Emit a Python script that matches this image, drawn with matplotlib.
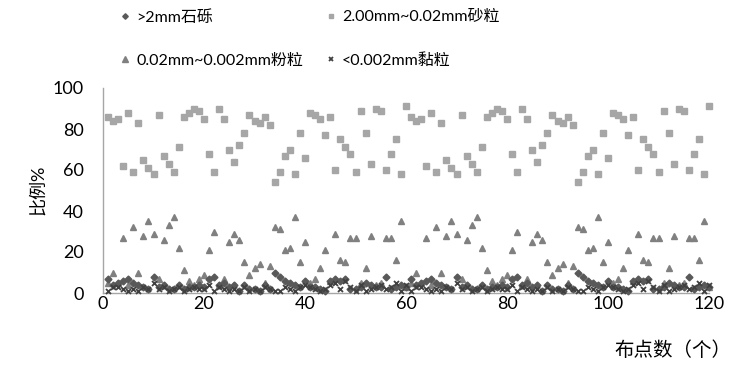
import matplotlib
matplotlib.use("Agg")
import matplotlib.pyplot as plt

plt.rcParams['font.family'] = ['Lato', 'Noto Sans CJK SC', 'DejaVu Sans']

# sample point index
points = list(range(1, 121))

# >2mm gravel (%)
gravel = [7, 4, 5, 6, 7, 5, 4, 3, 2, 8, 3, 4, 2, 2, 4, 2, 3, 3, 4, 3,
          7, 8, 4, 5, 3, 4, 1, 4, 2, 2, 1, 4, 2, 10, 8, 6, 5, 4, 3, 6,
          3, 3, 2, 1, 6, 7, 6, 7, 2, 2, 3, 5, 4, 3, 3, 8, 2, 3, 4, 3,
          7, 4, 5, 6, 7, 5, 4, 3, 2, 8, 3, 4, 2, 2, 4, 2, 3, 3, 4, 3,
          7, 8, 4, 5, 3, 4, 1, 4, 2, 2, 1, 4, 2, 10, 8, 6, 5, 4, 3, 6,
          3, 3, 2, 1, 6, 7, 6, 7, 2, 2, 3, 5, 4, 3, 3, 8, 2, 3, 4, 3]

# 2.00mm~0.02mm sand (%)
sand = [86, 84, 85, 62, 88, 59, 83, 65, 61, 58, 87, 67, 63, 59, 71, 86, 88, 90, 89, 85,
        68, 59, 90, 85, 70, 64, 72, 78, 87, 84, 83, 86, 82, 54, 59, 67, 70, 58, 78, 66,
        88, 87, 85, 77, 86, 60, 75, 71, 68, 59, 89, 78, 63, 90, 89, 60, 68, 75, 58, 91,
        86, 84, 85, 62, 88, 59, 83, 65, 61, 58, 87, 67, 63, 59, 71, 86, 88, 90, 89, 85,
        68, 59, 90, 85, 70, 64, 72, 78, 87, 84, 83, 86, 82, 54, 59, 67, 70, 58, 78, 66,
        88, 87, 85, 77, 86, 60, 75, 71, 68, 59, 89, 78, 63, 90, 89, 60, 68, 75, 58, 91]

# 0.02mm~0.002mm silt (%)
silt = [5, 10, 5, 27, 4, 32, 10, 28, 35, 29, 7, 26, 33, 37, 22, 11, 6, 4, 7, 9,
        21, 30, 4, 7, 25, 29, 26, 15, 9, 12, 14, 5, 13, 32, 31, 21, 22, 37, 15, 25,
        5, 7, 12, 21, 6, 29, 16, 15, 27, 27, 5, 12, 28, 4, 5, 27, 27, 16, 35, 3,
        5, 10, 5, 27, 4, 32, 10, 28, 35, 29, 7, 26, 33, 37, 22, 11, 6, 4, 7, 9,
        21, 30, 4, 7, 25, 29, 26, 15, 9, 12, 14, 5, 13, 32, 31, 21, 22, 37, 15, 25,
        5, 7, 12, 21, 6, 29, 16, 15, 27, 27, 5, 12, 28, 4, 5, 27, 27, 16, 35, 3]

# <0.002mm clay (%)
clay = [1, 3, 3, 2, 1, 2, 1, 3, 2, 5, 2, 3, 1, 2, 3, 1, 2, 3, 2, 2,
        4, 1, 3, 2, 1, 2, 1, 3, 1, 2, 1, 3, 2, 1, 1, 3, 2, 1, 3, 4,
        3, 2, 1, 2, 4, 5, 2, 6, 3, 1, 4, 1, 2, 3, 4, 2, 3, 5, 1, 4,
        1, 3, 3, 2, 1, 2, 1, 3, 2, 5, 2, 3, 1, 2, 3, 1, 2, 3, 2, 2,
        4, 1, 3, 2, 1, 2, 1, 3, 1, 2, 1, 3, 2, 1, 1, 3, 2, 1, 3, 4,
        3, 2, 1, 2, 4, 5, 2, 6, 3, 1, 4, 1, 2, 3, 4, 2, 3, 5, 1, 4]

labels = [">2mm石砾", "2.00mm~0.02mm砂粒", "0.02mm~0.002mm粉粒", "<0.002mm黏粒"]
x_ticks = [0, 20, 40, 60, 80, 100, 120]
y_ticks = [0, 20, 40, 60, 80, 100]

W, H = 732, 376
fig = plt.figure(figsize=(W / 100, H / 100), dpi=100)
ax = fig.add_axes([103 / W, 83 / H, (709 - 103) / W, (293 - 88) / H])

h_sand, = ax.plot(points, sand, linestyle='none', marker='s', ms=4.4,
                  color='#A6A6A6', mec='#A6A6A6', clip_on=False, zorder=2)
h_silt, = ax.plot(points, silt, linestyle='none', marker='^', ms=4.8,
                  color='#808080', mec='#808080', clip_on=False, zorder=3)
h_gravel, = ax.plot(points, gravel, linestyle='none', marker='D', ms=3.5,
                    color='#595959', mec='#595959', clip_on=False, zorder=4)
h_clay, = ax.plot(points, clay, linestyle='none', marker='x', ms=3.6, mew=1.3,
                  color='#404040', clip_on=False, zorder=5)

ax.set_xlim(0, 120)
ax.set_ylim(0, 100)
ax.set_xticks(x_ticks)
ax.set_yticks(y_ticks)
ax.tick_params(axis='both', length=0, labelsize=13, colors='#000000')
ax.tick_params(axis='y', pad=14)
ax.tick_params(axis='x', pad=2)
for s in ['top', 'right']:
    ax.spines[s].set_visible(False)
for s in ['left', 'bottom']:
    ax.spines[s].set_color('#A6A6A6')
    ax.spines[s].set_linewidth(1.0)

fig.text(38 / W, 1 - 190 / H, "比例%", rotation=90, ha='center', va='center', fontsize=13)
fig.text(731 / W, 1 - 350 / H, "布点数（个）", ha='right', va='center', fontsize=14)

common = dict(frameon=False, fontsize=11.5, handlelength=0.5, handletextpad=0.45,
              borderpad=0, borderaxespad=0, labelspacing=1.8, markerscale=0.8,
              loc='center left')
fig.legend([h_gravel, h_silt], [labels[0], labels[2]],
           bbox_to_anchor=(121 / W, 1 - 39 / H), **common)
fig.legend([h_sand, h_clay], [labels[1], labels[3]],
           bbox_to_anchor=(327 / W, 1 - 39 / H), **common)

fig.savefig("out.png", dpi=100)
